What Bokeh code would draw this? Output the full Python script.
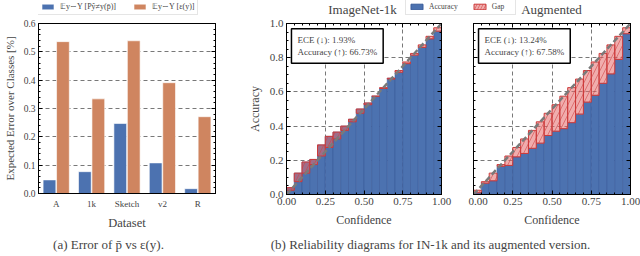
from bokeh.plotting import figure
from bokeh.models import (FactorRange, Legend, LegendItem, Label, LinearAxis,
                          FixedTicker, Range1d, ColumnDataSource, NumeralTickFormatter,
                          CustomJSTickFormatter)
from bokeh.layouts import row, column
from bokeh.embed import file_html
from bokeh.resources import INLINE
from bokeh.transform import dodge

# ---------------- data ----------------
datasets = ["A", "1k", "Sketch", "v2", "R"]
err_pbar = [0.048, 0.077, 0.247, 0.108, 0.017]
err_eps = [0.536, 0.334, 0.539, 0.391, 0.271]

bin_conf = [0.025, 0.075, 0.125, 0.175, 0.225, 0.275, 0.325, 0.375, 0.425, 0.475,
            0.525, 0.575, 0.625, 0.675, 0.725, 0.775, 0.825, 0.875, 0.925, 0.975]
acc_in1k = [0.04, 0.125, 0.19, 0.205, 0.29, 0.34, 0.365, 0.40, 0.44, 0.50,
            0.535, 0.575, 0.62, 0.68, 0.715, 0.765, 0.815, 0.86, 0.91, 0.955]
acc_aug = [0.01, 0.066, 0.08, 0.165, 0.17, 0.22, 0.24, 0.27, 0.30, 0.345,
           0.37, 0.385, 0.42, 0.47, 0.54, 0.58, 0.65, 0.705, 0.79, 0.94]
perfect = [0.0, 1.0]

info_in1k = "ECE (↓): 1.93%\nAccuracy (↑): 66.73%"
info_aug = "ECE (↓): 13.24%\nAccuracy (↑): 67.58%"

BLUE = "#4C72B0"
ORANGE = "#CF8560"
RED = "#e36a6a"
SERIF = "Liberation Serif"
GRID = "#555555"
EMPTY = CustomJSTickFormatter(code="return ''")


def style_axis(ax, labels=True, size="11px"):
    ax.major_tick_in = 4
    ax.major_tick_out = 0
    ax.minor_tick_in = 2
    ax.minor_tick_out = 0
    ax.axis_line_color = "black"
    ax.major_tick_line_color = "black"
    ax.minor_tick_line_color = "black"
    ax.major_label_text_font = SERIF
    ax.axis_label_text_font = SERIF
    ax.axis_label_text_font_style = "normal"
    ax.axis_label_text_font_size = "12px"
    ax.major_label_text_font_size = size
    if labels:
        ax.major_label_standoff = 3
    else:
        ax.formatter = EMPTY
        ax.major_label_standoff = 0
        ax.axis_label = None


def text_strip(width, height=17):
    s = figure(width=width, height=height, x_range=Range1d(0, 1), y_range=Range1d(5, 6),
               x_axis_type=None, y_axis_type=None, output_backend="svg",
               toolbar_location=None, min_border=0)
    s.outline_line_color = None
    return s


def style_legend(leg, size):
    leg.label_text_font = SERIF
    leg.label_text_font_size = size
    leg.glyph_width = 15
    leg.glyph_height = 7
    leg.label_height = 8
    leg.label_standoff = 5
    leg.spacing = 16
    leg.padding = 3
    leg.margin = 0
    leg.border_line_color = "#cccccc"


# ---------------- panel (a) ----------------
pA = figure(width=244, height=215, x_range=FactorRange(factors=datasets),
            y_range=Range1d(0, 0.6), output_backend="svg", toolbar_location=None,
            min_border_left=37, min_border_right=29, min_border_top=6, min_border_bottom=34)
pA.outline_line_color = "black"
srcA = ColumnDataSource(dict(dataset=datasets, pbar=err_pbar, eps=err_eps))
pA.vbar(x=dodge("dataset", -0.19, range=pA.x_range), top="pbar", width=0.36,
        source=srcA, fill_color=BLUE, line_color="white", line_width=0.6)
pA.vbar(x=dodge("dataset", 0.19, range=pA.x_range), top="eps", width=0.36,
        source=srcA, fill_color=ORANGE, line_color="white", line_width=0.6)
yt = FixedTicker(ticks=[0.0, 0.1, 0.2, 0.3, 0.4, 0.5, 0.6],
                 minor_ticks=[i / 50 for i in range(31)])
pA.yaxis.ticker = yt
pA.yaxis.formatter = NumeralTickFormatter(format="0.0")
pA.yaxis.axis_label = "Expected Error over Classes [%]"
style_axis(pA.yaxis[0], size="9.5px")
pA.yaxis.axis_label_text_font_size = "11px"
pA.yaxis.axis_label_standoff = 5
style_axis(pA.xaxis[0], size="9px")
pA.xaxis.major_tick_in = 0
pA.xaxis.axis_label = "Dataset"
pA.xaxis.major_label_standoff = 5
pA.xaxis.axis_label_standoff = 4
pA.xaxis.axis_label_text_font_size = "12.5px"
pA.xgrid.visible = False
pA.ygrid.ticker = FixedTicker(ticks=[0.1, 0.2, 0.3, 0.4, 0.5])
pA.ygrid.grid_line_color = GRID
pA.ygrid.grid_line_dash = "4 3"
pA.ygrid.grid_line_width = 0.8
axR = LinearAxis(ticker=yt)
style_axis(axR, labels=False)
pA.add_layout(axR, "right")

# legend strip of panel (a); its frame is aligned with pA's frame (left edge at 37)
stripA = text_strip(244)
srcAs = ColumnDataSource(dict(x=list(range(len(datasets))), pbar=err_pbar, eps=err_eps))
pA1 = stripA.vbar(x="x", top="pbar", width=0.3, source=srcAs, fill_color=BLUE,
                  line_color="white", line_width=0.6)
pA2 = stripA.vbar(x="x", top="eps", width=0.3, source=srcAs, fill_color=ORANGE,
                  line_color="white", line_width=0.6)
legA = Legend(items=[LegendItem(label="𝔼y∼Y [Pŷ≠y(p̄)]", renderers=[pA1]),
                     LegendItem(label="𝔼y∼Y [ε(y)]", renderers=[pA2])],
              orientation="horizontal", location=(-2, 2))
style_legend(legA, "8px")
stripA.add_layout(legA)


# ---------------- reliability panels ----------------
def reliability(acc, info, width, left, right, ylabels):
    p = figure(width=width, height=215, x_range=Range1d(0, 1), y_range=Range1d(0, 1),
               output_backend="svg", toolbar_location=None,
               min_border_left=left, min_border_right=right, min_border_top=6,
               min_border_bottom=38)
    p.outline_line_color = "black"
    src = ColumnDataSource(dict(conf=bin_conf, acc=acc))
    p.vbar(x="conf", top="acc", width=0.05, source=src, fill_color=BLUE,
           line_color="#3b5d9c", line_width=0.6)
    p.vbar(x="conf", bottom="acc", top="conf", width=0.05, source=src,
           fill_color=RED, fill_alpha=0.55, line_color="#cc3a3a", line_width=1,
           hatch_pattern="/", hatch_color="#d04040", hatch_alpha=0.7,
           hatch_scale=10, hatch_weight=0.8)
    p.line(perfect, perfect, line_color="#7a7a7a", line_width=2.5, line_dash="6 3")
    xt = FixedTicker(ticks=[0, 0.25, 0.5, 0.75, 1.0],
                     minor_ticks=[i / 20 for i in range(21)])
    ytk = FixedTicker(ticks=[0, 0.2, 0.4, 0.6, 0.8, 1.0],
                      minor_ticks=[i / 20 for i in range(21)])
    p.xaxis.ticker = xt
    p.yaxis.ticker = ytk
    p.xaxis.formatter = NumeralTickFormatter(format="0.00")
    p.yaxis.formatter = NumeralTickFormatter(format="0.0")
    style_axis(p.xaxis[0], size="11px")
    p.xaxis.axis_label = "Confidence"
    p.xaxis.axis_label_standoff = 5
    style_axis(p.yaxis[0], labels=ylabels, size="11px")
    if ylabels:
        p.yaxis.axis_label = "Accuracy"
        p.yaxis.axis_label_standoff = 5
    p.xgrid.ticker = FixedTicker(ticks=[0.25, 0.5, 0.75])
    p.ygrid.ticker = FixedTicker(ticks=[0.2, 0.4, 0.6, 0.8])
    for g in (p.xgrid, p.ygrid):
        g.grid_line_color = GRID
        g.grid_line_dash = "4 3"
        g.grid_line_width = 0.8
    top = LinearAxis(ticker=xt)
    style_axis(top, labels=False)
    p.add_layout(top, "above")
    rt = LinearAxis(ticker=ytk)
    style_axis(rt, labels=False)
    p.add_layout(rt, "right")
    p.add_layout(Label(x=0.032, y=0.97, text=info, text_align="left",
                       text_baseline="top", text_font=SERIF, text_font_size="9px",
                       text_line_height=1.25,
                       background_fill_color="white", border_line_color="black",
                       border_line_width=1.5, padding=6))
    return p


pB = reliability(acc_in1k, info_in1k, 224, 40, 27, True)
pC = reliability(acc_aug, info_aug, 172, 5, 10, False)

# strip with titles and shared legend
strip = text_strip(396)
srcS = ColumnDataSource(dict(conf=bin_conf, acc=acc_in1k))
r_acc = strip.vbar(x="conf", top="acc", width=0.05, source=srcS, fill_color=BLUE,
                   line_color="#3b5d9c")
r_gap = strip.vbar(x="conf", bottom="acc", top="conf", width=0.05, source=srcS,
                   fill_color=RED, fill_alpha=0.55, line_color="#cc3a3a",
                   hatch_pattern="/", hatch_color="#d04040", hatch_alpha=0.7,
                   hatch_scale=6, hatch_weight=0.8)
legB = Legend(items=[LegendItem(label="Accuracy", renderers=[r_acc]),
                     LegendItem(label="Gap", renderers=[r_gap])],
              orientation="horizontal", location=(161, 2))
style_legend(legB, "7.5px")
legB.spacing = 14
strip.add_layout(legB)
strip.add_layout(Label(x=118, y=8, x_units="screen", y_units="screen", text="ImageNet-1k",
                       text_align="center", text_baseline="middle", text_font=SERIF,
                       text_font_size="13px"))
strip.add_layout(Label(x=307, y=8, x_units="screen", y_units="screen", text="Augmented",
                       text_align="center", text_baseline="middle", text_font=SERIF,
                       text_font_size="13px"))

# captions
cap = figure(width=640, height=24, x_range=Range1d(0, 1), y_range=Range1d(0, 1),
             x_axis_type=None, y_axis_type=None, output_backend="svg",
             toolbar_location=None, min_border=0)
cap.outline_line_color = None
cap.add_layout(Label(x=108, y=12, x_units="screen", y_units="screen",
                     text="(a) Error of p̄ vs ε(y).", text_align="center",
                     text_baseline="middle", text_font=SERIF, text_font_size="13px"))
cap.add_layout(Label(x=430, y=12, x_units="screen", y_units="screen",
                     text="(b) Reliability diagrams for IN-1k and its augmented version.",
                     text_align="center", text_baseline="middle", text_font=SERIF,
                     text_font_size="13px"))

layout = column(row(column(stripA, pA), column(strip, row(pB, pC))), cap)
open("out.html", "w").write(file_html(layout, INLINE))
